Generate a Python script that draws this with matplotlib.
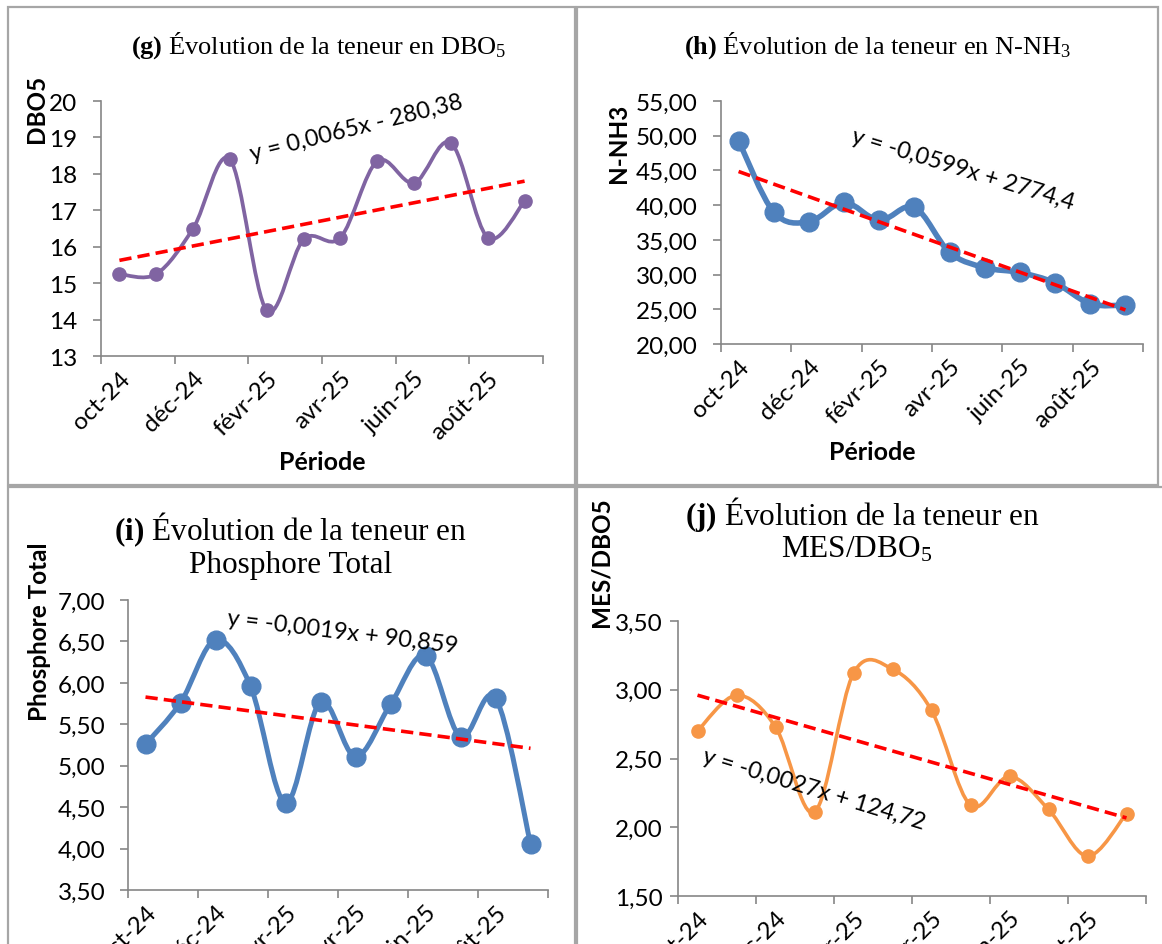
import matplotlib.pyplot as plt
import numpy as np
from matplotlib.path import Path
from matplotlib.patches import PathPatch, Rectangle
from matplotlib.ticker import FixedLocator, NullFormatter

plt.rcParams['mathtext.fontset'] = 'custom'
plt.rcParams['mathtext.rm'] = 'Liberation Serif'
plt.rcParams['mathtext.bf'] = 'Liberation Serif:bold'

W, H = 1162, 945

months = ['oct-24', 'nov-24', 'déc-24', 'janv-25', 'févr-25', 'mars-25',
          'avr-25', 'mai-25', 'juin-25', 'juil-25', 'août-25', 'sept-25']
dbo5 = [15.25, 15.25, 16.5, 18.4, 14.25, 16.2, 16.25, 18.35, 17.75, 18.85, 16.25, 17.25]
nnh3 = [49.3, 39.0, 37.6, 40.4, 37.8, 39.7, 33.2, 31.0, 30.3, 28.8, 25.8, 25.6]
ptotal = [5.26, 5.76, 6.52, 5.96, 4.55, 5.77, 5.11, 5.74, 6.33, 5.35, 5.82, 4.06]
mes_dbo5 = [2.70, 2.96, 2.73, 2.11, 3.12, 3.15, 2.85, 2.16, 2.37, 2.13, 1.79, 2.10]

eq_g = 'y = 0,0065x - 280,38'
eq_h = 'y = -0,0599x + 2774,4'
eq_i = 'y = -0,0019x + 90,859'
eq_j = 'y = -0,0027x + 124,72'

SANS = ['Lato', 'DejaVu Sans']
SERIF = 'Liberation Serif'
TICK_FS = 17.5


def fx(px):
    return px / W


def fy(py):
    return 1 - py / H


def smooth_path(x, y):
    # Excel-like smoothed line: cubic Bezier through the points
    pts = np.column_stack([x, y]).astype(float)
    n = len(pts)
    verts = [pts[0]]
    codes = [Path.MOVETO]
    for i in range(n - 1):
        p0 = pts[max(i - 1, 0)]
        p1 = pts[i]
        p2 = pts[i + 1]
        p3 = pts[min(i + 2, n - 1)]
        verts += [p1 + (p2 - p0) / 6, p2 - (p3 - p1) / 6, p2]
        codes += [Path.CURVE4] * 3
    return Path(verts, codes)


def make_panel(fig, box, values, yticks, ylabels, color, lw, ms, eq, eq_pos, eq_rot, ypad):
    l, t, r, b = box
    ax = fig.add_axes([fx(l), fy(b), fx(r - l), (b - t) / H])
    x = np.arange(len(values))
    ax.add_patch(PathPatch(smooth_path(x, values), fill=False, edgecolor=color,
                           lw=lw, capstyle='round', joinstyle='round', zorder=3))
    ax.plot(x, values, 'o', color=color, ms=ms, zorder=4)
    coef = np.polyfit(x, values, 1)
    ends = np.array([x[0], x[-1]])
    ax.plot(ends, np.polyval(coef, ends), color='#FF0000', lw=2.6,
            ls=(0, (3.4, 1.7)), zorder=5)

    ax.set_xlim(-0.5, len(values) - 0.5)
    ax.set_ylim(yticks[0], yticks[-1])
    ax.set_yticks(yticks)
    ax.set_yticklabels(ylabels, fontsize=TICK_FS, family=SANS)
    ax.xaxis.set_major_locator(FixedLocator(np.arange(-0.5, len(values), 2)))
    ax.xaxis.set_major_formatter(NullFormatter())
    ax.set_xticks(x[::2], minor=True)
    ax.set_xticklabels(months[::2], minor=True, rotation=45, ha='right', va='top',
                       rotation_mode='anchor', fontsize=TICK_FS, family=SANS)
    ax.tick_params(axis='x', which='minor', length=0, pad=8)
    ax.tick_params(axis='both', which='major', length=6, width=1.2, color='#868686')
    ax.tick_params(axis='y', pad=ypad)
    for side in ['top', 'right']:
        ax.spines[side].set_visible(False)
    for side in ['left', 'bottom']:
        ax.spines[side].set_color('#868686')
        ax.spines[side].set_linewidth(1.2)
    ax.set_facecolor('none')
    fig.text(fx(eq_pos[0]), fy(eq_pos[1]), eq, rotation=eq_rot, ha='center', va='center',
             fontsize=17, family=SANS, rotation_mode='anchor')
    return ax


fig = plt.figure(figsize=(W / 100, H / 100), dpi=100)

# panel frames
for (l, t, r, b) in [(8, 8, 575, 486), (577, 8, 1158, 486), (8, 488, 575, 960), (577, 488, 1170, 960)]:
    fig.patches.append(Rectangle((fx(l), fy(b)), fx(r - l), (b - t) / H, transform=fig.transFigure,
                                 fill=False, edgecolor='#A6A6A6', lw=1.6))

# (g) DBO5
make_panel(fig, (101, 102, 543, 357), dbo5, list(range(13, 21)),
           [str(v) for v in range(13, 21)], '#8064A2', 2.7, 9.5,
           eq_g, (356, 128), 14, 11)
fig.text(fx(319), fy(46), r'$\mathbf{(g)}$ Évolution de la teneur en DBO$\mathregular{_5}$',
         ha='center', va='center', fontsize=19, family=SERIF)
fig.text(fx(36), fy(109), 'DBO5', rotation=90, ha='center', va='center',
         fontsize=17.5, fontweight='bold', family=SANS)
fig.text(fx(322), fy(463), 'Période', ha='center', va='center',
         fontsize=18, fontweight='bold', family=SANS)

# (h) N-NH3
h_ticks = [20, 25, 30, 35, 40, 45, 50, 55]
make_panel(fig, (721, 102, 1143, 345), nnh3, h_ticks,
           ['%d,00' % v for v in h_ticks], '#4F81BD', 4.0, 13.5,
           eq_h, (963, 170), -17, 11)
fig.text(fx(878), fy(46), r'$\mathbf{(h)}$ Évolution de la teneur en N-NH$\mathregular{_3}$',
         ha='center', va='center', fontsize=19, family=SERIF)
fig.text(fx(618), fy(143), 'N-NH3', rotation=90, ha='center', va='center',
         fontsize=17.5, fontweight='bold', family=SANS)
fig.text(fx(872), fy(453), 'Période', ha='center', va='center',
         fontsize=18, fontweight='bold', family=SANS)

# (i) Phosphore Total
i_ticks = [3.5, 4.0, 4.5, 5.0, 5.5, 6.0, 6.5, 7.0]
make_panel(fig, (128, 601, 548, 891), ptotal, i_ticks,
           [('%.2f' % v).replace('.', ',') for v in i_ticks], '#4F81BD', 3.6, 13.5,
           eq_i, (343, 633), -7, 10)
fig.text(fx(291), fy(530), r'$\mathbf{(i)}$ Évolution de la teneur en',
         ha='center', va='center', fontsize=22.5, family=SERIF)
fig.text(fx(291), fy(566), 'Phosphore Total',
         ha='center', va='center', fontsize=22.5, family=SERIF)
fig.text(fx(40), fy(632), 'Phosphore Total', rotation=90, ha='center', va='center',
         fontsize=17.5, fontweight='bold', family=SANS)

# (j) MES/DBO5
j_ticks = [1.5, 2.0, 2.5, 3.0, 3.5]
make_panel(fig, (678, 622, 1146, 897), mes_dbo5, j_ticks,
           [('%.2f' % v).replace('.', ',') for v in j_ticks], '#F79646', 2.6, 9.5,
           eq_j, (814, 790), -17, 5)
fig.text(fx(862), fy(514), r'$\mathbf{(j)}$ Évolution de la teneur en',
         ha='center', va='center', fontsize=22.5, family=SERIF)
fig.text(fx(857), fy(550), r'MES/DBO$\mathregular{_5}$',
         ha='center', va='center', fontsize=22.5, family=SERIF)
fig.text(fx(601), fy(562), 'MES/DBO5', rotation=90, ha='center', va='center',
         fontsize=17.5, fontweight='bold', family=SANS)

fig.savefig('out.png', dpi=100, facecolor='white')
